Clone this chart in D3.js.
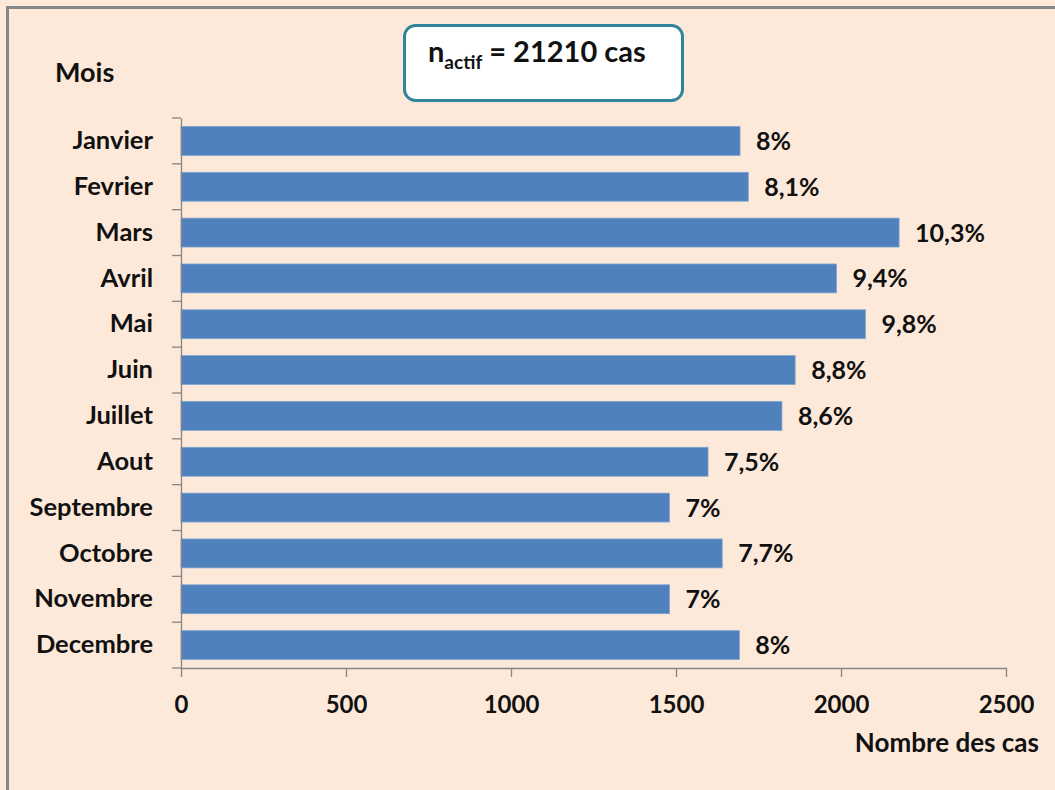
<!DOCTYPE html>
<html>
<head>
<meta charset="utf-8">
<script src="https://cdn.jsdelivr.net/npm/d3@7"></script>
<style>
  html, body { margin: 0; padding: 0; background: #fde9d9; }
  svg { display: block; }
  text { font-family: Lato, "Open Sans", sans-serif; font-weight: bold; fill: #111; }
</style>
</head>
<body>
<svg id="chart" width="1055" height="790"></svg>
<script>
const months = ["Janvier","Fevrier","Mars","Avril","Mai","Juin","Juillet","Aout","Septembre","Octobre","Novembre","Decembre"];
const cases = [1694,1719,2176,1986,2074,1861,1821,1597,1480,1640,1480,1692];
const percentLabels = ["8%","8,1%","10,3%","9,4%","9,8%","8,8%","8,6%","7,5%","7%","7,7%","7%","8%"];
const xTicks = [0,500,1000,1500,2000,2500];
const totalLabel = "21210";

const svg = d3.select("#chart");
const W = 1055, H = 790;

// background + frame
svg.append("rect").attr("x",0).attr("y",0).attr("width",W).attr("height",H).attr("fill","#fde9d9");
svg.append("rect").attr("x",7.5).attr("y",7.5).attr("width",W+20).attr("height",H+20)
  .attr("fill","#fde9d9").attr("stroke","#878787").attr("stroke-width",3);

const x = d3.scaleLinear().domain([0,2500]).range([181,1006]);
const y = d3.scaleBand().domain(months).range([118,668]).paddingInner(0.37).paddingOuter(0.185);

// bars
svg.append("g").selectAll("rect").data(months).join("rect")
  .attr("x", x(0))
  .attr("y", d => y(d))
  .attr("width", (d,i) => x(cases[i]) - x(0))
  .attr("height", y.bandwidth())
  .attr("fill", "#4f81bd")
  .attr("stroke", "#7da2d1").attr("stroke-width", 0.8);

// y axis
const yAxis = d3.axisLeft(y).tickSize(0).tickPadding(28);
const gy = svg.append("g").attr("transform", `translate(${x(0)},0)`).call(yAxis);
gy.select(".domain").attr("stroke","#868686").attr("stroke-width",1.3);
gy.selectAll("text").style("font-size","25.5px").attr("fill","#111");
// tick marks between categories
const bounds = d3.range(months.length + 1).map(i => 118 + i * y.step());
svg.append("g").selectAll("line").data(bounds).join("line")
  .attr("x1", x(0) - 9).attr("x2", x(0))
  .attr("y1", d => d).attr("y2", d => d)
  .attr("stroke","#868686").attr("stroke-width",1.3);

// x axis
const xAxis = d3.axisBottom(x).tickValues(xTicks).tickFormat(d3.format("d")).tickSize(9).tickPadding(19).tickSizeOuter(0);
const gx = svg.append("g").attr("transform", `translate(0,668)`).call(xAxis);
gx.select(".domain").attr("stroke","#868686").attr("stroke-width",1.3);
gx.selectAll("line").attr("stroke","#868686").attr("stroke-width",1.3);
gx.selectAll("text").style("font-size","24px").attr("fill","#111");

// value labels
svg.append("g").selectAll("text").data(months).join("text")
  .attr("x", (d,i) => x(cases[i]) + 16)
  .attr("y", d => y(d) + y.bandwidth()/2)
  .attr("dy","0.36em")
  .style("font-size","25px")
  .text((d,i) => percentLabels[i]);

// axis titles
svg.append("text").attr("x",55).attr("y",82).style("font-size","27px").text("Mois");
svg.append("text").attr("x",1039).attr("y",752).attr("text-anchor","end").style("font-size","26px").text("Nombre des cas");

// title box
svg.append("rect").attr("x",404.5).attr("y",25.5).attr("width",278).attr("height",75).attr("rx",11)
  .attr("fill","#ffffff").attr("stroke","#31849b").attr("stroke-width",3);
const t = svg.append("text").attr("x",428).attr("y",62).style("font-size","29px");
t.append("tspan").text("n");
t.append("tspan").attr("dy",7).style("font-size","19px").text("actif");
t.append("tspan").attr("dy",-7).text(" = " + totalLabel + " cas");
</script>
</body>
</html>
